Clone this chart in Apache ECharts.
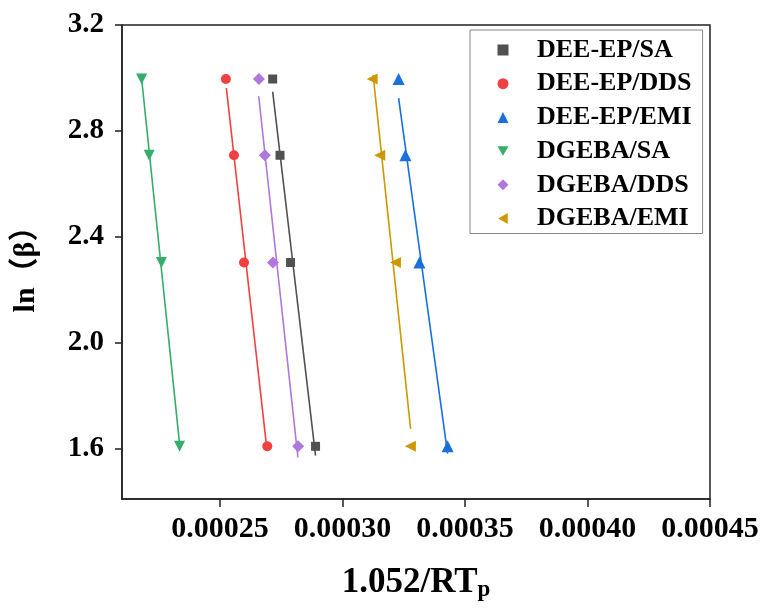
<!DOCTYPE html>
<html>
<head>
<meta charset="utf-8">
<script src="https://cdn.jsdelivr.net/npm/echarts@6/dist/echarts.min.js"></script>
<style>html,body{margin:0;padding:0;background:#fff;}#c{width:767px;height:610px;}</style>
</head>
<body>
<div id="c"></div>
<script>
// ln(beta) values for heating rates 5,10,15,20 K/min
const lnBeta = [1.609, 2.303, 2.708, 2.996];
const seriesNames = ['DEE-EP/SA', 'DEE-EP/DDS', 'DEE-EP/EMI', 'DGEBA/SA', 'DGEBA/DDS', 'DGEBA/EMI'];
// x values (1.052/RTp) for each series, in order of lnBeta
const xDeeSA   = [0.0002890, 0.0002788, 0.0002745, 0.0002715];
const xDeeDDS  = [0.0002693, 0.0002598, 0.0002557, 0.0002524];
const xDeeEMI  = [0.0003429, 0.0003314, 0.0003257, 0.0003229];
const xDgSA    = [0.0002335, 0.0002261, 0.0002211, 0.0002180];
const xDgDDS   = [0.0002819, 0.0002716, 0.0002683, 0.0002659];
const xDgEMI   = [0.0003277, 0.0003216, 0.0003152, 0.0003121];
// fitted line endpoints: [x, y] bottom and top
const fitDeeSA  = [[0.0002890, 1.574], [0.0002715, 2.948]];
const fitDeeDDS = [[0.0002689, 1.618], [0.0002526, 2.962]];
const fitDeeEMI = [[0.0003429, 1.581], [0.0003229, 2.924]];
const fitDgSA   = [[0.0002335, 1.618], [0.0002180, 2.998]];
const fitDgDDS  = [[0.0002818, 1.567], [0.0002658, 2.931]];
const fitDgEMI  = [[0.0003278, 1.675], [0.0003125, 3.011]];
const xTicks = [0.00025, 0.00030, 0.00035, 0.00040, 0.00045];
const yTicks = [1.6, 2.0, 2.4, 2.8, 3.2];

const colors = ['#515151', '#F14040', '#1A6FDF', '#37AD6B', '#B177DE', '#CC9900'];
const triDown = 'path://M0,0 L10,0 L5,8.66 Z';
const triLeft = 'path://M0,5 L8.66,0 L8.66,10 Z';
const symbols = ['rect', 'circle', 'triangle', triDown, 'diamond', triLeft];
const sizes = [9, 10, 12, 11, 12, 11];
const xs = [xDeeSA, xDeeDDS, xDeeEMI, xDgSA, xDgDDS, xDgEMI];
const fits = [fitDeeSA, fitDeeDDS, fitDeeEMI, fitDgSA, fitDgDDS, fitDgEMI];

const font = '"Liberation Serif", "Times New Roman", serif';
const series = [];
seriesNames.forEach((n, i) => {
  series.push({
    name: n + ' fit', type: 'line', data: fits[i], symbol: 'none',
    lineStyle: { color: colors[i], width: 1.6 }, silent: true, z: 1
  });
});
seriesNames.forEach((n, i) => {
  series.push({
    name: n, type: 'scatter',
    data: xs[i].map((x, k) => [x, lnBeta[k]]),
    symbol: symbols[i], symbolSize: sizes[i],
    itemStyle: { color: colors[i], opacity: 1 }, z: 3
  });
});

const chart = echarts.init(document.getElementById('c'));
chart.setOption({
  animation: false,
  backgroundColor: '#fff',
  grid: { left: 122, right: 57, top: 25, bottom: 111, show: true, borderColor: '#222', borderWidth: 1.5 },
  xAxis: {
    type: 'value', min: 0.00021, max: 0.00045,
    splitLine: { show: false },
    axisLine: { lineStyle: { color: '#222', width: 1.5 } },
    axisTick: { show: true, length: 8, lineStyle: { color: '#222', width: 1.5 }, customValues: xTicks },
    axisLabel: { customValues: xTicks, color: '#000', fontFamily: font, fontWeight: 'bold', fontSize: 30, margin: 15,
      formatter: v => v.toFixed(5) },
    name: '{a|1.052/RT}{s|p}', nameLocation: 'middle', nameGap: 64,
    nameTextStyle: { rich: {
      a: { fontFamily: font, fontWeight: 'bold', fontSize: 35, color: '#000' },
      s: { fontFamily: font, fontWeight: 'bold', fontSize: 23, color: '#000', verticalAlign: 'bottom', padding: [16, 0, 0, 0] }
    } }
  },
  yAxis: {
    type: 'value', min: 1.41, max: 3.2,
    splitLine: { show: false },
    axisLine: { lineStyle: { color: '#222', width: 1.5 } },
    axisTick: { show: true, length: 7, lineStyle: { color: '#222', width: 1.5 }, customValues: yTicks },
    axisLabel: { customValues: yTicks, color: '#000', fontFamily: font, fontWeight: 'bold', fontSize: 29, margin: 18,
      formatter: v => v.toFixed(1) },
    name: 'ln（β）', nameLocation: 'middle', nameGap: 81,
    nameTextStyle: { fontFamily: '"Liberation Serif", "Noto Sans CJK SC", serif', fontWeight: 'bold', fontSize: 30, color: '#000' }
  },
  legend: {
    orient: 'vertical', left: 470, top: 30,
    data: seriesNames,
    itemWidth: 11, itemHeight: 11, itemGap: 7.7,
    padding: [7, 11, 2, 27.5],
    borderColor: '#888', borderWidth: 1,
    textStyle: { fontFamily: font, fontWeight: 'bold', fontSize: 26, lineHeight: 26, color: '#000', padding: [0, 0, 0, 23.5] }
  },
  series: series
});
</script>
</body>
</html>
